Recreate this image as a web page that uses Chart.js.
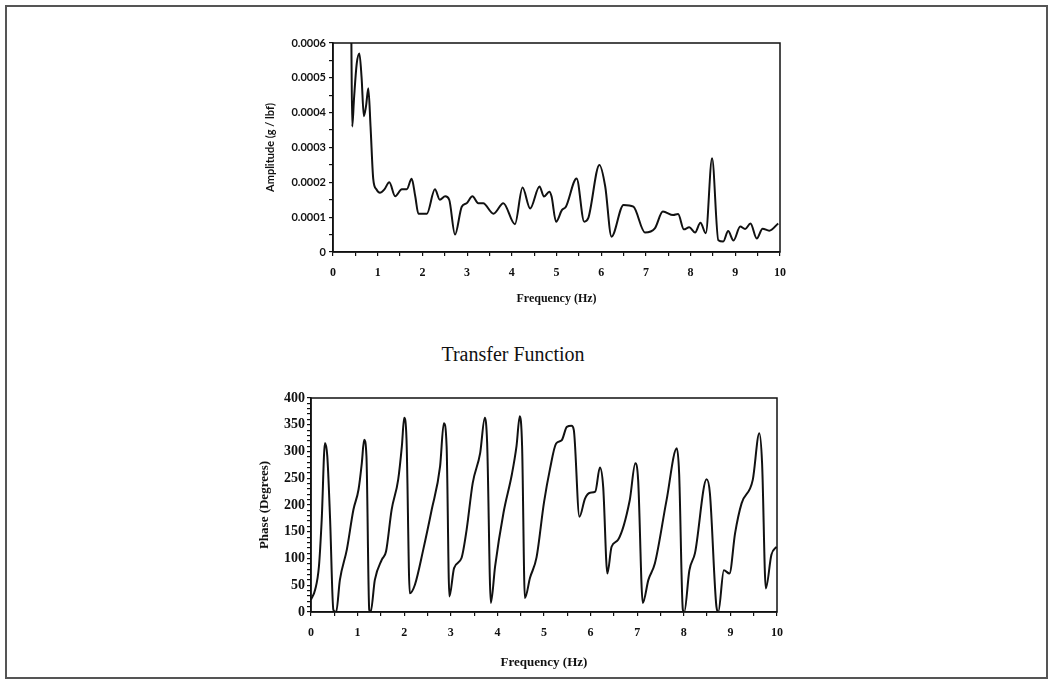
<!DOCTYPE html>
<html>
<head>
<meta charset="utf-8">
<script src="https://cdn.jsdelivr.net/npm/chart.js@4.4.1/dist/chart.umd.min.js"></script>
<style>
  body { margin: 0; background: #fff; }
  #page { position: relative; width: 1054px; height: 689px; overflow: hidden; }
  #frame { position: absolute; left: 5px; top: 5px; width: 1039px; height: 670px; border: 2px solid #555; }
  #topWrap { position: absolute; left: 240px; top: 30px; width: 560px; height: 280px; }
  #bottomWrap { position: absolute; left: 230px; top: 385px; width: 570px; height: 290px; }
  #title { position: absolute; left: 0; width: 1026px; top: 343px; text-align: center;
           font-family: "Liberation Serif", "Times New Roman", serif; font-size: 20px; color: #111; }
</style>
</head>
<body>
<div id="page">
  <div id="frame"></div>
  <div id="topWrap"><canvas id="ampChart"></canvas></div>
  <div id="title">Transfer Function</div>
  <div id="bottomWrap"><canvas id="phaseChart"></canvas></div>
</div>
<script>
// Amplitude (g / lbf) vs frequency (Hz)
const ampFreq = [0.41, 0.43, 0.47, 0.53, 0.59, 0.64, 0.69, 0.74, 0.79, 0.84, 0.90, 0.97, 1.05, 1.15, 1.26,
  1.39, 1.54, 1.65, 1.76, 1.84, 1.91, 2.10, 2.28, 2.39, 2.51, 2.60, 2.73, 2.88, 2.99, 3.12, 3.25, 3.36,
  3.59, 3.81, 4.07, 4.24, 4.41, 4.62, 4.72, 4.84, 4.89, 4.99, 5.12, 5.21, 5.45, 5.62, 5.71, 5.96, 6.09,
  6.23, 6.50, 6.72, 6.98, 7.20, 7.38, 7.61, 7.72, 7.85, 7.97, 8.10, 8.22, 8.34, 8.48, 8.62, 8.73, 8.84,
  8.96, 9.11, 9.22, 9.34, 9.48, 9.61, 9.76, 9.96];
const ampValues = [0.00062, 0.00036, 0.00044, 0.00054, 0.00057, 0.00050, 0.00039, 0.00042, 0.00047, 0.00036,
  0.00021, 0.00018, 0.00017, 0.00018, 0.00020, 0.00016, 0.00018, 0.00018, 0.00021, 0.00016, 0.00011,
  0.00011, 0.00018, 0.00015, 0.00016, 0.00015, 0.00005, 0.00013, 0.00014, 0.00016, 0.00014, 0.00014,
  0.00011, 0.00014, 0.00008, 0.000185, 0.000125, 0.000188, 0.000159, 0.000173, 0.000159, 0.000087,
  0.00012, 0.00013, 0.000211, 0.000087, 0.000097, 0.00025, 0.000188, 0.000044, 0.000135, 0.00013,
  0.000056, 0.000068, 0.000116, 0.000106, 0.000109, 0.000065, 0.000071, 0.000056, 0.000084, 0.000054,
  0.000269, 0.000034, 0.00003, 0.00006, 0.000033, 0.000073, 0.000066, 0.000082, 0.000039, 0.000067,
  0.000061, 0.000082];

// Phase (degrees) vs frequency (Hz)
const phaseFreq = [0, 0.09, 0.17, 0.23, 0.30, 0.35, 0.41, 0.48, 0.54, 0.62, 0.77, 0.91, 1.02, 1.09, 1.14,
  1.19, 1.25, 1.28, 1.37, 1.52, 1.61, 1.73, 1.87, 1.95, 2.00, 2.05, 2.12, 2.23, 2.41, 2.59, 2.77, 2.85,
  2.91, 2.97, 3.07, 3.23, 3.34, 3.47, 3.63, 3.73, 3.78, 3.86, 3.95, 4.13, 4.31, 4.41, 4.48, 4.53, 4.59,
  4.70, 4.84, 5.00, 5.13, 5.26, 5.38, 5.49, 5.59, 5.64, 5.76, 5.88, 5.99, 6.10, 6.20, 6.27, 6.36, 6.45,
  6.59, 6.84, 6.96, 7.02, 7.12, 7.24, 7.38, 7.63, 7.85, 7.90, 7.98, 8.01, 8.12, 8.24, 8.49, 8.56, 8.70,
  8.74, 8.86, 8.98, 9.10, 9.24, 9.48, 9.62, 9.68, 9.76, 9.88, 9.99];
const phaseValues = [23, 42, 85, 173, 316, 291, 173, 4, 0, 60, 117, 191, 229, 278, 322,
  291, 4, 0, 60, 98, 113, 191, 247, 310, 363, 322, 35, 51, 117, 191, 272, 353,
  310, 29, 82, 101, 154, 241, 297, 363, 316, 17, 85, 185, 257, 310, 366, 310, 26,
  64, 102, 205, 268, 315, 321, 346, 348, 340, 178, 212, 223, 225, 270, 234, 72, 122,
  135, 209, 278, 247, 17, 60, 91, 209, 306, 259, 4, 0, 78, 110, 248, 222, 10,
  0, 78, 72, 147, 203, 247, 334, 278, 44, 107, 122];

const freqTicks = [0, 1, 2, 3, 4, 5, 6, 7, 8, 9, 10];

const serif = '"Liberation Serif", "Times New Roman", serif';
const sans = 'Lato, "Open Sans", sans-serif';
const ink = '#111';

// cadre complet autour de la zone de tracé
const boxPlugin = {
  id: 'plotBox',
  afterDraw(chart) {
    const { ctx, chartArea: a } = chart;
    ctx.save();
    ctx.strokeStyle = ink;
    ctx.lineWidth = 1.5;
    ctx.strokeRect(a.left, a.top, a.right - a.left, a.bottom - a.top);
    ctx.restore();
  }
};

function toPoints(xs, ys) {
  return xs.map((x, i) => ({ x: x, y: ys[i] }));
}

function freqAxis(fontSize, titleSize, titlePad, height) {
  return {
    type: 'linear',
    min: 0,
    max: 10,
    afterFit: s => { s.height = height; },
    border: { display: true, color: ink, width: 1.5 },
    grid: { display: true, drawOnChartArea: false, drawTicks: true, tickLength: 4, color: ink, lineWidth: 1.2 },
    ticks: {
      stepSize: 0.5,
      autoSkip: false,
      maxRotation: 0,
      padding: 10,
      color: ink,
      font: { family: serif, size: fontSize, weight: 'bold' },
      callback: v => (freqTicks.includes(v) ? String(v) : '')
    },
    title: {
      display: true,
      text: 'Frequency (Hz)',
      color: ink,
      font: { family: serif, size: titleSize, weight: 'bold' },
      padding: { top: 0, bottom: titlePad }
    }
  };
}

new Chart(document.getElementById('ampChart'), {
  type: 'line',
  data: {
    datasets: [{
      data: toPoints(ampFreq, ampValues),
      borderColor: ink,
      borderWidth: 2,
      pointRadius: 0,
      cubicInterpolationMode: 'monotone',
      fill: false
    }]
  },
  options: {
    responsive: true,
    maintainAspectRatio: false,
    animation: false,
    layout: { padding: { top: 13, right: 20, left: 0, bottom: 0 } },
    plugins: { legend: { display: false }, tooltip: { enabled: false } },
    scales: {
      x: freqAxis(12, 12, 4, 58),
      y: {
        min: 0,
        max: 0.0006,
        afterFit: s => { s.width = 93; },
        border: { display: true, color: ink, width: 1.5 },
        grid: { display: true, drawOnChartArea: false, drawTicks: true, tickLength: 4, color: ink, lineWidth: 1.2 },
        ticks: {
          stepSize: 0.00005,
          maxTicksLimit: 100,
          autoSkip: false,
          padding: 3,
          color: ink,
          font: { family: sans, size: 11, weight: 'bold' },
          callback: v => {
            const n = Math.round(v / 0.00005);
            if (n % 2 !== 0) return '';
            return n === 0 ? '0' : (n / 20000).toFixed(4);
          }
        },
        title: {
          display: true,
          text: 'Amplitude (g / lbf)',
          color: ink,
          font: { family: sans, size: 11, weight: 'bold' },
          padding: { top: 24, bottom: 0 }
        }
      }
    }
  },
  plugins: [boxPlugin]
});

new Chart(document.getElementById('phaseChart'), {
  type: 'line',
  data: {
    datasets: [{
      data: toPoints(phaseFreq, phaseValues),
      borderColor: ink,
      borderWidth: 2,
      pointRadius: 0,
      cubicInterpolationMode: 'monotone',
      fill: false
    }]
  },
  options: {
    responsive: true,
    maintainAspectRatio: false,
    animation: false,
    layout: { padding: { top: 13, right: 23, left: 0, bottom: 0 } },
    plugins: { legend: { display: false }, tooltip: { enabled: false } },
    scales: {
      x: freqAxis(12, 13, 5, 63),
      y: {
        min: 0,
        max: 400,
        afterFit: s => { s.width = 81; },
        border: { display: true, color: ink, width: 1.5 },
        grid: { display: true, drawOnChartArea: false, drawTicks: true, tickLength: 4, color: ink, lineWidth: 1.2 },
        ticks: {
          stepSize: 10,
          maxTicksLimit: 100,
          autoSkip: false,
          padding: 2,
          color: ink,
          font: { family: serif, size: 14, weight: 'bold' },
          callback: v => (v % 50 === 0 ? String(v) : '')
        },
        title: {
          display: true,
          text: 'Phase (Degrees)',
          color: ink,
          font: { family: serif, size: 13, weight: 'bold' },
          padding: { top: 27, bottom: 0 }
        }
      }
    }
  },
  plugins: [boxPlugin]
});
</script>
</body>
</html>
